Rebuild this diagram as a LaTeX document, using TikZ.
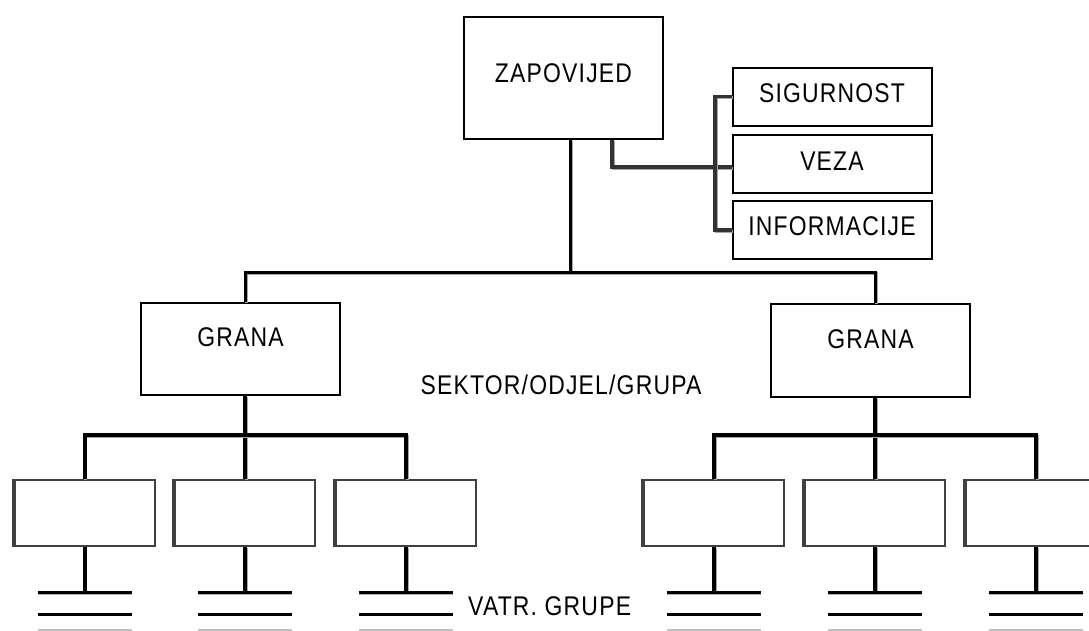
\documentclass[tikz,border=0pt]{standalone}
\usepackage{fontspec}
\setmainfont{Liberation Sans}[FakeStretch=0.85,LetterSpace=4.4]
\usetikzlibrary{positioning}
\tikzset{
  lbl/.style={font=\fontsize{27}{32}\selectfont, inner sep=0pt},
  unit/.style={lbl, draw, line width=2pt, minimum width=199pt, text height=19.3pt, text depth=#1, inner sep=3pt},
  unit/.default=0pt,
  cell/.style={draw=black!75, line width=2pt, minimum width=140pt, minimum height=66pt},
  wire/.style={line width=3pt, preaction={draw=black!35, line width=3pt, transform canvas={shift={(1pt,-1pt)}}}},
  side/.style={wire, draw=black!80, line width=3.5pt},
  bus/.style={wire, line width=4pt},
  tine/.style={line width=3pt}
}
\begin{document}
\begin{tikzpicture}[x=1pt,y=-1pt]
\useasboundingbox (0,0) rectangle (1089,630);
\clip (0,0) rectangle (1089,630);

\node[unit=10pt, minimum height=122pt] (z) at (563.5,78) {ZAPOVIJED};
\foreach \n/\y/\d/\t in {s1/96.5/8pt/SIGURNOST,s2/164/6pt/VEZA,s3/230/8pt/INFORMACIJE}
  \node[unit=\d, minimum height=58pt] (\n) at (832,\y) {\t};
\node[unit=24pt, minimum height=92pt] (gl) at (240.5,349) {GRANA};
\node[unit=23pt, minimum height=93pt] (gr) at (870.5,350.5) {GRANA};
\node[lbl, anchor=base] (sek) at (561,394.5) {SEKTOR/ODJEL/GRUPA};
\node[lbl, anchor=base west] (vatr) at (468,615) {VATR. GRUPE};

\foreach \g/\p/\xa/\xb/\xc in {gl/a/84.5/245/406,gr/b/714/875/1036} {
  \foreach \i/\x in {1/\xa,2/\xb,3/\xc} {
    \node[cell] (\p\i) at (\x,513) {};
    \draw[line width=4pt, black!75] (\p\i.north west) -- (\p\i.south west);
    \draw[bus] (\p\i.south) -- ++(0,45) coordinate (\p g\i);
    \draw[tine, preaction={draw=black!30, transform canvas={shift={(0pt,-2pt)}}}] ([xshift=-47pt]\p g\i) -- ([xshift=47pt]\p g\i);
    \draw[tine] ([shift={(-47pt,-22pt)}]\p g\i) -- ([shift={(47pt,-22pt)}]\p g\i);
    \draw[tine, black!25] ([shift={(-47pt,-38.5pt)}]\p g\i) -- ([shift={(47pt,-38.5pt)}]\p g\i);
  }
  \coordinate (\p0) at (\xb,435);
  \draw[bus] (\g.south -| \p0) -- (\p0) -- (\p2.north);
  \draw[bus] (\p1.north) |- (\p0) -| (\p3.north);
}

\coordinate (j) at (570,272);
\coordinate (t) at (612,167);
\coordinate (br) at (715,230);
\draw[wire] (z.south -| j) -- (j);
\draw[wire] (gl.north -| a2) |- (j) -| (gr.north -| b2);
\draw[side] (z.south -| t) -- (t) -- (t -| s2.west);
\draw[side] (s1.west) -| (br) -- (s3.west);

\end{tikzpicture}
\end{document}
